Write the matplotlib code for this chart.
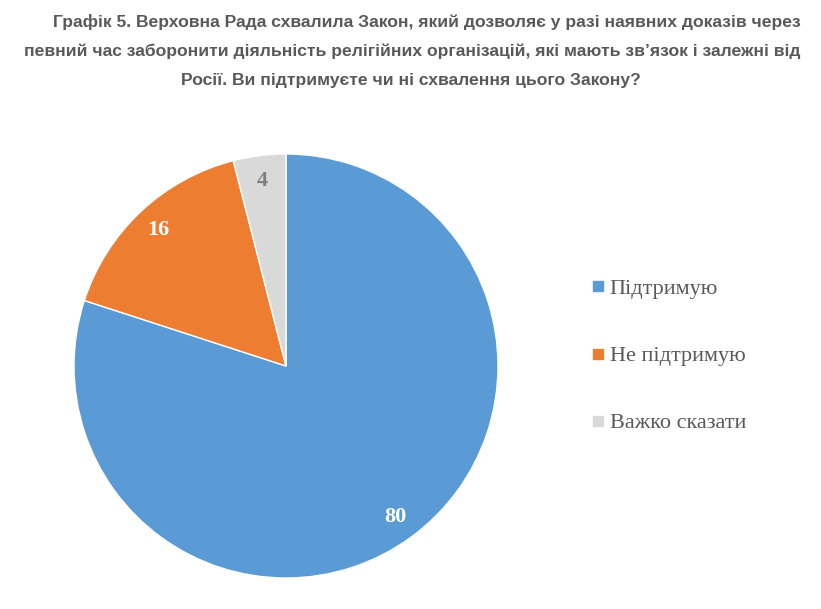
import matplotlib
matplotlib.use("Agg")
import matplotlib.pyplot as plt
from matplotlib.lines import Line2D

TITLE_LINES = [
    "Графік 5. Верховна Рада схвалила Закон, який дозволяє у разі наявних доказів через",
    "певний час заборонити діяльність релігійних організацій, які мають зв’язок і залежні від",
    "Росії. Ви підтримуєте чи ні схвалення цього Закону?",
]
CATEGORIES = ["Підтримую", "Не підтримую", "Важко сказати"]
VALUES = [80, 16, 4]
COLORS = ["#5B9BD5", "#ED7D31", "#D9D9D9"]
LABEL_COLORS = ["white", "white", "#7F7F7F"]

W, H = 821, 609
fig = plt.figure(figsize=(W / 100, H / 100), dpi=100)
fig.patch.set_facecolor("white")

title_font = ["Liberation Sans Narrow", "Liberation Sans", "DejaVu Sans"]
title_kw = dict(fontsize=12.6, fontweight="bold", color="#595959",
                family=title_font, va="center")
fig.text(53 / W, 1 - 22 / H, TITLE_LINES[0], ha="left", **title_kw)
fig.text(24 / W, 1 - 51 / H, TITLE_LINES[1], ha="left", **title_kw)
fig.text(411 / W, 1 - 80 / H, TITLE_LINES[2], ha="center", **title_kw)

# pie axes: centre (286, 366) px, radius 212 px
cx, cy, r = 286, 366, 212
ax = fig.add_axes([(cx - r) / W, (H - cy - r) / H, 2 * r / W, 2 * r / H])
wedges, _, autotexts = ax.pie(
    VALUES,
    colors=COLORS,
    startangle=90,
    counterclock=False,
    autopct=lambda p: f"{p:.0f}",
    pctdistance=0.88,
    radius=1.0,
    wedgeprops=dict(edgecolor="white", linewidth=1),
)
for t, c in zip(autotexts, LABEL_COLORS):
    t.set_color(c)
    t.set_fontsize(16)
    t.set_fontweight("bold")
    t.set_family(["Liberation Serif", "DejaVu Serif"])
ax.set_xlim(-1, 1)
ax.set_ylim(-1, 1)
ax.set_aspect("equal")
ax.axis("off")

handles = [Line2D([], [], marker="s", linestyle="none", markersize=7,
                  markerfacecolor=c, markeredgecolor=c) for c in COLORS]
leg = fig.legend(handles, CATEGORIES, loc="center left",
                 bbox_to_anchor=(592 / W, 1 - 356 / H), frameon=False,
                 prop={"family": ["Liberation Serif", "DejaVu Serif"], "size": 16},
                 labelspacing=2.1, handlelength=0.5, handletextpad=0.3,
                 borderpad=0, borderaxespad=0)
for t in leg.get_texts():
    t.set_color("#595959")

fig.savefig("out.png", dpi=100, facecolor="white")
